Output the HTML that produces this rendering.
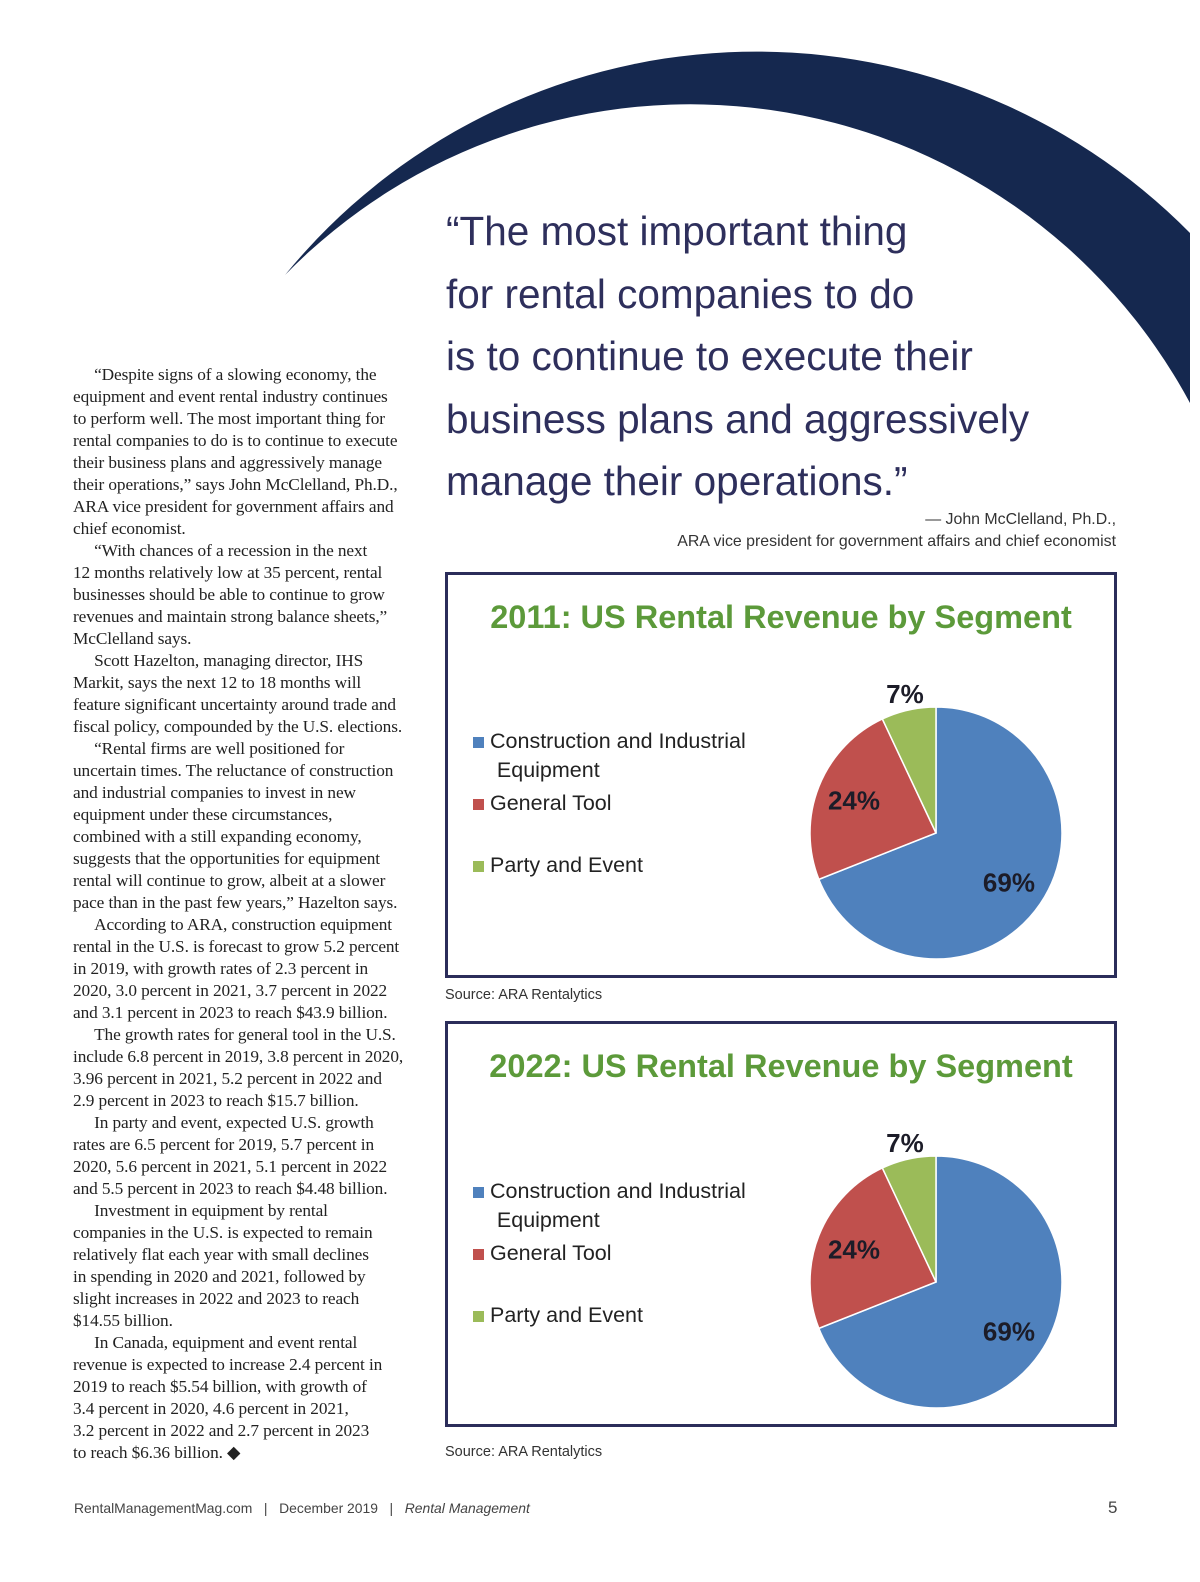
<!DOCTYPE html>
<html><head><meta charset="utf-8">
<style>
body{margin:0;width:1200px;height:1582px;background:#fff;position:relative;overflow:hidden;font-family:"Liberation Sans",sans-serif}
.abs{position:absolute}
.quote{left:446px;top:200px;font-size:40.5px;line-height:62.5px;color:#2e2f5c;font-weight:300;white-space:nowrap}
.attr{right:84px;text-align:right;font-size:15.9px;color:#333;line-height:22px}
.body{left:73px;top:364px;width:345px;font-family:"Liberation Serif",serif;font-size:17.3px;line-height:22px;color:#222;white-space:nowrap;letter-spacing:-0.1px}
.body p{margin:0}
.box{left:445px;width:666px;height:400px;border:3px solid #2b2d5a}
.title{left:0;right:0;text-align:center;top:24px;font-size:32.5px;font-weight:bold;color:#5c9a3a}
.leg{left:25px;font-size:21.5px;color:#222;line-height:29px}
.sq{display:inline-block;width:11px;height:11px;margin-right:6px}
.src{left:445px;font-size:14.5px;color:#333}
.foot{top:1500px;font-size:13.9px;color:#444}
</style></head><body>
<svg class="abs" style="left:0;top:0" width="1200" height="420">
<path d="M285,275 A609,609 0 0 1 1190,233 L1190,403 A567,567 0 0 0 285,275 Z" fill="#15284f"/>
</svg>
<div class="abs quote">“The most important thing<br>for rental companies to do<br>is to continue to execute their<br>business plans and aggressively<br>manage their operations.”</div>
<div class="abs attr" style="top:509px">— John McClelland, Ph.D.,<br>ARA vice president for government affairs and chief economist</div>
<div class="abs body">
<p>&nbsp;&nbsp;&nbsp;&nbsp;&nbsp;“Despite signs of a slowing economy, the<br>equipment and event rental industry continues<br>to perform well. The most important thing for<br>rental companies to do is to continue to execute<br>their business plans and aggressively manage<br>their operations,” says John McClelland, Ph.D.,<br>ARA vice president for government affairs and<br>chief economist.</p>
<p>&nbsp;&nbsp;&nbsp;&nbsp;&nbsp;“With chances of a recession in the next<br>12 months relatively low at 35 percent, rental<br>businesses should be able to continue to grow<br>revenues and maintain strong balance sheets,”<br>McClelland says.</p>
<p>&nbsp;&nbsp;&nbsp;&nbsp;&nbsp;Scott Hazelton, managing director, IHS<br>Markit, says the next 12 to 18 months will<br>feature significant uncertainty around trade and<br>fiscal policy, compounded by the U.S. elections.</p>
<p>&nbsp;&nbsp;&nbsp;&nbsp;&nbsp;“Rental firms are well positioned for<br>uncertain times. The reluctance of construction<br>and industrial companies to invest in new<br>equipment under these circumstances,<br>combined with a still expanding economy,<br>suggests that the opportunities for equipment<br>rental will continue to grow, albeit at a slower<br>pace than in the past few years,” Hazelton says.</p>
<p>&nbsp;&nbsp;&nbsp;&nbsp;&nbsp;According to ARA, construction equipment<br>rental in the U.S. is forecast to grow 5.2 percent<br>in 2019, with growth rates of 2.3 percent in<br>2020, 3.0 percent in 2021, 3.7 percent in 2022<br>and 3.1 percent in 2023 to reach $43.9 billion.</p>
<p>&nbsp;&nbsp;&nbsp;&nbsp;&nbsp;The growth rates for general tool in the U.S.<br>include 6.8 percent in 2019, 3.8 percent in 2020,<br>3.96 percent in 2021, 5.2 percent in 2022 and<br>2.9 percent in 2023 to reach $15.7 billion.</p>
<p>&nbsp;&nbsp;&nbsp;&nbsp;&nbsp;In party and event, expected U.S. growth<br>rates are 6.5 percent for 2019, 5.7 percent in<br>2020, 5.6 percent in 2021, 5.1 percent in 2022<br>and 5.5 percent in 2023 to reach $4.48 billion.</p>
<p>&nbsp;&nbsp;&nbsp;&nbsp;&nbsp;Investment in equipment by rental<br>companies in the U.S. is expected to remain<br>relatively flat each year with small declines<br>in spending in 2020 and 2021, followed by<br>slight increases in 2022 and 2023 to reach<br>$14.55 billion.</p>
<p>&nbsp;&nbsp;&nbsp;&nbsp;&nbsp;In Canada, equipment and event rental<br>revenue is expected to increase 2.4 percent in<br>2019 to reach $5.54 billion, with growth of<br>3.4 percent in 2020, 4.6 percent in 2021,<br>3.2 percent in 2022 and 2.7 percent in 2023<br>to reach $6.36 billion. ◆</p>
</div>

<div class="abs box" style="top:572px">
<div class="abs title">2011: US Rental Revenue by Segment</div>
<div class="abs leg" style="top:152px"><span class="sq" style="background:#4f81bd"></span>Construction and Industrial<br>&nbsp;&nbsp;&nbsp;&nbsp;Equipment</div>
<div class="abs leg" style="top:214px"><span class="sq" style="background:#c0504d"></span>General Tool</div>
<div class="abs leg" style="top:276px"><span class="sq" style="background:#9bbb59"></span>Party and Event</div>
<svg class="abs pie" id="pie1" style="left:0;top:0" width="666" height="400"></svg>
</div>
<div class="abs src" style="top:987px">Source: ARA Rentalytics</div>

<div class="abs box" style="top:1021px">
<div class="abs title">2022: US Rental Revenue by Segment</div>
<div class="abs leg" style="top:153px"><span class="sq" style="background:#4f81bd"></span>Construction and Industrial<br>&nbsp;&nbsp;&nbsp;&nbsp;Equipment</div>
<div class="abs leg" style="top:215px"><span class="sq" style="background:#c0504d"></span>General Tool</div>
<div class="abs leg" style="top:277px"><span class="sq" style="background:#9bbb59"></span>Party and Event</div>
<svg class="abs pie" id="pie2" style="left:0;top:0" width="666" height="400"></svg>
</div>
<div class="abs src" style="top:1444px">Source: ARA Rentalytics</div>

<div class="abs foot" style="left:74px">RentalManagementMag.com &nbsp;&nbsp;|&nbsp;&nbsp; December 2019 &nbsp;&nbsp;|&nbsp;&nbsp; <i>Rental Management</i></div>
<div class="abs foot" style="left:1108px;font-size:17px;top:1498px">5</div>

<script>
const segments = ["Construction and Industrial Equipment","General Tool","Party and Event"];
const values2011 = [69,24,7];
const values2022 = [69,24,7];
const colors = ["#4f81bd","#c0504d","#9bbb59"];
const NS="http://www.w3.org/2000/svg";
function drawPie(id, values){
  const svg=document.getElementById(id);
  const cx=488, cy=258, r=126;
  const total=values.reduce((a,b)=>a+b,0);
  let acc=0;
  const pt=(a,rr)=>[cx+rr*Math.sin(a), cy-rr*Math.cos(a)];
  values.forEach((v,i)=>{
    const a0=acc/total*2*Math.PI; acc+=v; const a1=acc/total*2*Math.PI;
    const p0=pt(a0,r), p1=pt(a1,r);
    const path=document.createElementNS(NS,"path");
    path.setAttribute("d",`M${cx},${cy} L${p0[0]},${p0[1]} A${r},${r} 0 ${a1-a0>Math.PI?1:0} 1 ${p1[0]},${p1[1]} Z`);
    path.setAttribute("fill",colors[i]);
    path.setAttribute("stroke","#fff");
    path.setAttribute("stroke-width","1.5");
    
    
    svg.appendChild(path);
    const mid=(a0+a1)/2;
    const lr = v/total<0.1 ? r*1.13 : r*0.7;
    const lp=pt(mid,lr);
    const t=document.createElementNS(NS,"text");
    t.setAttribute("x",lp[0]); t.setAttribute("y",lp[1]+9);
    t.setAttribute("text-anchor","middle");
    t.setAttribute("font-size","26");
    t.setAttribute("font-weight","bold");
    t.setAttribute("fill","#1c1c28");
    t.setAttribute("font-family","Liberation Sans, sans-serif");
    t.textContent=v+"%";
    
    
    svg.appendChild(t);
  });
}
drawPie("pie1",values2011);
drawPie("pie2",values2022);
</script>
</body></html>
